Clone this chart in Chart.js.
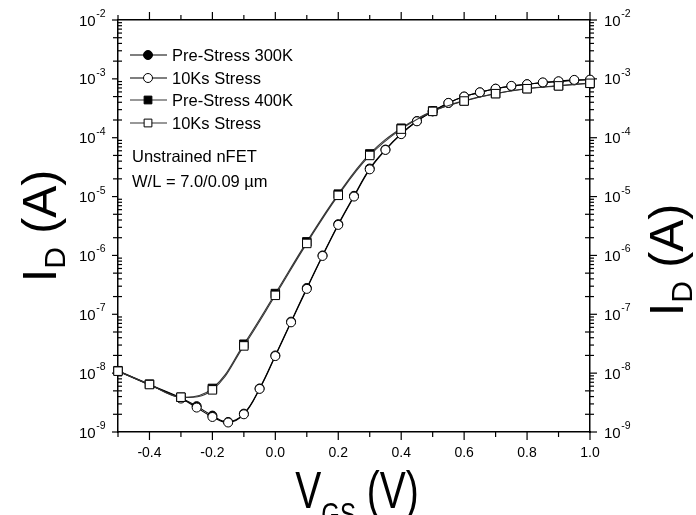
<!DOCTYPE html>
<html>
<head>
<meta charset="utf-8">
<title>Id-Vgs unstrained nFET</title>
<script src="https://cdn.jsdelivr.net/npm/chart.js@4.4.0/dist/chart.umd.min.js"></script>
<style>
    html, body { margin: 0; padding: 0; background: #fff; }
    #wrap { width: 696px; height: 515px; }
</style>
</head>
<body>
<div id="wrap"><canvas id="idvgChart" width="696" height="515"></canvas></div>
<script>
const FONT = '"Liberation Sans", Arial, sans-serif';

// Gate sweep: 400K curves every 0.1 V, 300K curves every 0.05 V from -0.3 V
const vgs400 = [-0.5, -0.4, -0.3, -0.2, -0.1, 0.0, 0.1, 0.2, 0.3, 0.4, 0.5, 0.6, 0.7, 0.8, 0.9, 1.0];
const vgs300 = [-0.5, -0.4, -0.3, -0.25, -0.2, -0.15, -0.1, -0.05, 0.0, 0.05, 0.1, 0.15, 0.2, 0.25,
    0.3, 0.35, 0.4, 0.45, 0.5, 0.55, 0.6, 0.65, 0.7, 0.75, 0.8, 0.85, 0.9, 0.95, 1.0];

// Drain current (A)
const idPre300 = [1.1e-8, 6.4e-9, 3.8e-9, 2.75e-9, 1.9e-9, 1.48e-9, 2.05e-9, 5.5e-9, 2.0e-8, 7.5e-8, 2.8e-7, 1.0e-6, 3.4e-6, 1.03e-5,
    3.0e-5, 6.3e-5, 1.17e-4, 1.92e-4, 2.82e-4, 3.9e-4, 5.0e-4, 5.9e-4, 6.8e-4, 7.5e-4, 8.1e-4, 8.6e-4, 9.0e-4, 9.4e-4, 9.6e-4];
const idStress300 = [1.08e-8, 6.3e-9, 3.7e-9, 2.6e-9, 1.8e-9, 1.45e-9, 2.0e-9, 5.4e-9, 1.95e-8, 7.3e-8, 2.7e-7, 9.8e-7, 3.3e-6, 1.0e-5,
    2.9e-5, 6.2e-5, 1.15e-4, 1.9e-4, 2.8e-4, 3.9e-4, 5.0e-4, 5.9e-4, 6.8e-4, 7.6e-4, 8.1e-4, 8.7e-4, 9.1e-4, 9.6e-4, 9.7e-4];
const idPre400 = [1.1e-8, 6.5e-9, 3.9e-9, 5.5e-9, 3.1e-8, 2.25e-7, 1.7e-6, 1.1e-5, 5.3e-5, 1.45e-4, 2.85e-4, 4.25e-4, 5.65e-4, 6.85e-4, 7.65e-4, 8.45e-4];
const idStress400 = [1.08e-8, 6.4e-9, 3.9e-9, 5.2e-9, 2.9e-8, 2.1e-7, 1.6e-6, 1.05e-5, 5.0e-5, 1.4e-4, 2.8e-4, 4.2e-4, 5.6e-4, 6.8e-4, 7.6e-4, 8.4e-4];

// Axis ticks
const xMajorTicks = [-0.4, -0.2, 0.0, 0.2, 0.4, 0.6, 0.8, 1.0];
const xMinorTicks = [-0.5, -0.3, -0.1, 0.1, 0.3, 0.5, 0.7, 0.9];
const yDecades = [-9, -8, -7, -6, -5, -4, -3, -2];
const yMinorFactors = [2, 3, 4, 5, 6, 7, 8, 9];
const yMidFactors = [2, 5];

const toPoints = (xs, ys) => xs.map((x, i) => ({ x: x, y: ys[i] }));

// circles below -0.3 V sit under the square markers, so hide them
const circleRadius = ctx => (ctx.raw && ctx.raw.x < -0.35 ? 0 : 4.5);

const common = {
    borderWidth: 1.1,
    pointBorderWidth: 1,
    pointBorderColor: '#000',
    tension: 0.4,
    clip: false
};

function drawRich(ctx, parts, cx, cy, angle, squeeze) {
    ctx.save();
    ctx.translate(cx, cy);
    ctx.rotate(angle);
    ctx.scale(squeeze, 1);
    let total = 0;
    parts.forEach(p => {
        ctx.font = `${p.size}px ${FONT}`;
        total += ctx.measureText(p.text).width;
    });
    let x = -total / 2;
    ctx.fillStyle = '#000';
    ctx.textAlign = 'left';
    ctx.textBaseline = 'alphabetic';
    parts.forEach(p => {
        ctx.font = `${p.size}px ${FONT}`;
        ctx.fillText(p.text, x, p.dy || 0);
        x += ctx.measureText(p.text).width;
    });
    ctx.restore();
}

function drawPower(ctx, exp, x, y, align) {
    const sup = String(exp);
    ctx.font = `15px ${FONT}`;
    const baseW = ctx.measureText('10').width;
    ctx.font = `10.5px ${FONT}`;
    const supW = ctx.measureText(sup).width;
    const start = align === 'right' ? x - baseW - supW : x;
    ctx.textAlign = 'left';
    ctx.textBaseline = 'alphabetic';
    ctx.font = `15px ${FONT}`;
    ctx.fillText('10', start, y + 5.5);
    ctx.font = `10.5px ${FONT}`;
    ctx.fillText(sup, start + baseW + 0.5, y - 3);
}

// Origin-style frame ticks (outward majors, log minors)
const frameTicks = {
    id: 'frameTicks',
    beforeDatasetsDraw(chart) {
        const { ctx, chartArea: a, scales } = chart;
        const seg = (x1, y1, x2, y2) => {
            ctx.beginPath();
            ctx.moveTo(x1, y1);
            ctx.lineTo(x2, y2);
            ctx.stroke();
        };
        ctx.save();
        ctx.strokeStyle = '#000';
        ctx.lineWidth = 1.2;
        xMajorTicks.forEach(v => {
            const px = scales.x.getPixelForValue(v);
            seg(px, a.bottom, px, a.bottom + 8);
            seg(px, a.top, px, a.top - 8);
        });
        xMinorTicks.forEach(v => {
            const px = scales.x.getPixelForValue(v);
            seg(px, a.bottom, px, a.bottom + 5);
            seg(px, a.top, px, a.top - 5);
        });
        yDecades.forEach(e => {
            const dec = Math.pow(10, e);
            const py = scales.y.getPixelForValue(dec);
            seg(a.left - 6, py, a.left, py);
            seg(a.right, py, a.right + 7, py);
            if (e === yDecades[yDecades.length - 1]) return;
            yMinorFactors.forEach(m => {
                const my = scales.y.getPixelForValue(dec * m);
                seg(a.left, my, a.left + 4, my);
                seg(a.right, my, a.right + 4, my);
            });
            yMidFactors.forEach(m => {
                const my = scales.y.getPixelForValue(dec * m);
                seg(a.left - 5, my, a.left, my);
                seg(a.right - 5, my, a.right, my);
            });
        });
        ctx.restore();
    },
    afterDraw(chart) {
        const { ctx, chartArea: a, scales } = chart;
        ctx.save();
        ctx.fillStyle = '#000';

        // y tick labels on both sides
        yDecades.forEach(e => {
            const py = scales.y.getPixelForValue(Math.pow(10, e));
            drawPower(ctx, e, a.left - 13, py, 'right');
            drawPower(ctx, e, a.right + 14, py, 'left');
        });

        // legend with line-through markers
        const rows = [55, 78, 100, 123];
        chart.data.datasets.forEach((ds, i) => {
            const y = rows[i];
            ctx.strokeStyle = ds.borderColor;
            ctx.lineWidth = 1.1;
            ctx.beginPath();
            ctx.moveTo(130, y);
            ctx.lineTo(167, y);
            ctx.stroke();
            ctx.fillStyle = ds.pointBackgroundColor;
            ctx.strokeStyle = '#000';
            ctx.lineWidth = 1;
            Chart.helpers.drawPoint(ctx, {
                pointStyle: ds.pointStyle,
                radius: ds.pointStyle === 'rect' ? 5.5 : 4.5,
                borderWidth: 1,
                rotation: 0
            }, 148, y);
            ctx.fillStyle = '#000';
            ctx.font = `16.5px ${FONT}`;
            ctx.textAlign = 'left';
            ctx.textBaseline = 'middle';
            ctx.fillText(ds.label, 172, y + 1);
        });

        ctx.font = `16.5px ${FONT}`;
        ctx.textBaseline = 'middle';
        ctx.fillText('Unstrained nFET', 132, 157);
        ctx.fillText('W/L = 7.0/0.09 \u00b5m', 132, 182);

        // axis titles
        drawRich(ctx, [
            { text: 'V', size: 52 },
            { text: 'GS', size: 32, dy: 17 },
            { text: ' (V)', size: 52 }
        ], 357, 508, 0, 0.75);
        const yTitle = [
            { text: 'I', size: 48 },
            { text: 'D', size: 30, dy: 9 },
            { text: ' (A)', size: 48 }
        ];
        drawRich(ctx, yTitle, 56, 226, -Math.PI / 2, 1.0);
        drawRich(ctx, yTitle, 683, 260, -Math.PI / 2, 1.0);
        ctx.restore();
    }
};

const fixedWidth = w => scale => { scale.width = w; };
const fixedHeight = h => scale => { scale.height = h; };
const frameBorder = { display: true, color: '#000', width: 1.5 };

new Chart(document.getElementById('idvgChart'), {
    type: 'line',
    data: {
        datasets: [
            {
                ...common,
                label: 'Pre-Stress 300K',
                data: toPoints(vgs300, idPre300),
                borderColor: '#000',
                pointStyle: 'circle',
                pointRadius: circleRadius,
                pointBackgroundColor: '#000',
                order: 3
            },
            {
                ...common,
                label: '10Ks Stress',
                data: toPoints(vgs300, idStress300),
                borderColor: '#000',
                pointStyle: 'circle',
                pointRadius: circleRadius,
                pointBackgroundColor: '#fff',
                order: 1
            },
            {
                ...common,
                label: 'Pre-Stress 400K',
                data: toPoints(vgs400, idPre400),
                borderColor: '#333',
                pointStyle: 'rect',
                pointRadius: 6,
                pointBackgroundColor: '#000',
                order: 2
            },
            {
                ...common,
                label: '10Ks Stress',
                data: toPoints(vgs400, idStress400),
                borderColor: '#333',
                pointStyle: 'rect',
                pointRadius: 6,
                pointBackgroundColor: '#fff',
                order: 0
            }
        ]
    },
    options: {
        responsive: false,
        devicePixelRatio: 1,
        animation: false,
        layout: { padding: 0 },
        plugins: {
            legend: { display: false },
            tooltip: { enabled: false }
        },
        scales: {
            x: {
                type: 'linear',
                position: 'bottom',
                min: -0.5,
                max: 1.0,
                afterBuildTicks: scale => { scale.ticks = xMajorTicks.map(v => ({ value: v })); },
                ticks: {
                    color: '#000',
                    font: { size: 14, family: FONT },
                    padding: 13,
                    maxRotation: 0,
                    autoSkip: false,
                    callback: v => Number(v).toFixed(1)
                },
                grid: { display: false, drawTicks: false },
                border: frameBorder,
                afterFit: fixedHeight(83)
            },
            xTop: {
                type: 'linear',
                position: 'top',
                min: -0.5,
                max: 1.0,
                ticks: { display: false },
                grid: { display: false, drawTicks: false },
                border: frameBorder,
                afterFit: fixedHeight(20)
            },
            y: {
                type: 'logarithmic',
                position: 'left',
                min: 1e-9,
                max: 1e-2,
                ticks: { display: false },
                grid: { display: false, drawTicks: false },
                border: frameBorder,
                afterFit: fixedWidth(118)
            },
            yRight: {
                type: 'logarithmic',
                position: 'right',
                min: 1e-9,
                max: 1e-2,
                ticks: { display: false },
                grid: { display: false, drawTicks: false },
                border: frameBorder,
                afterFit: fixedWidth(106)
            }
        }
    },
    plugins: [frameTicks]
});
</script>
</body>
</html>
